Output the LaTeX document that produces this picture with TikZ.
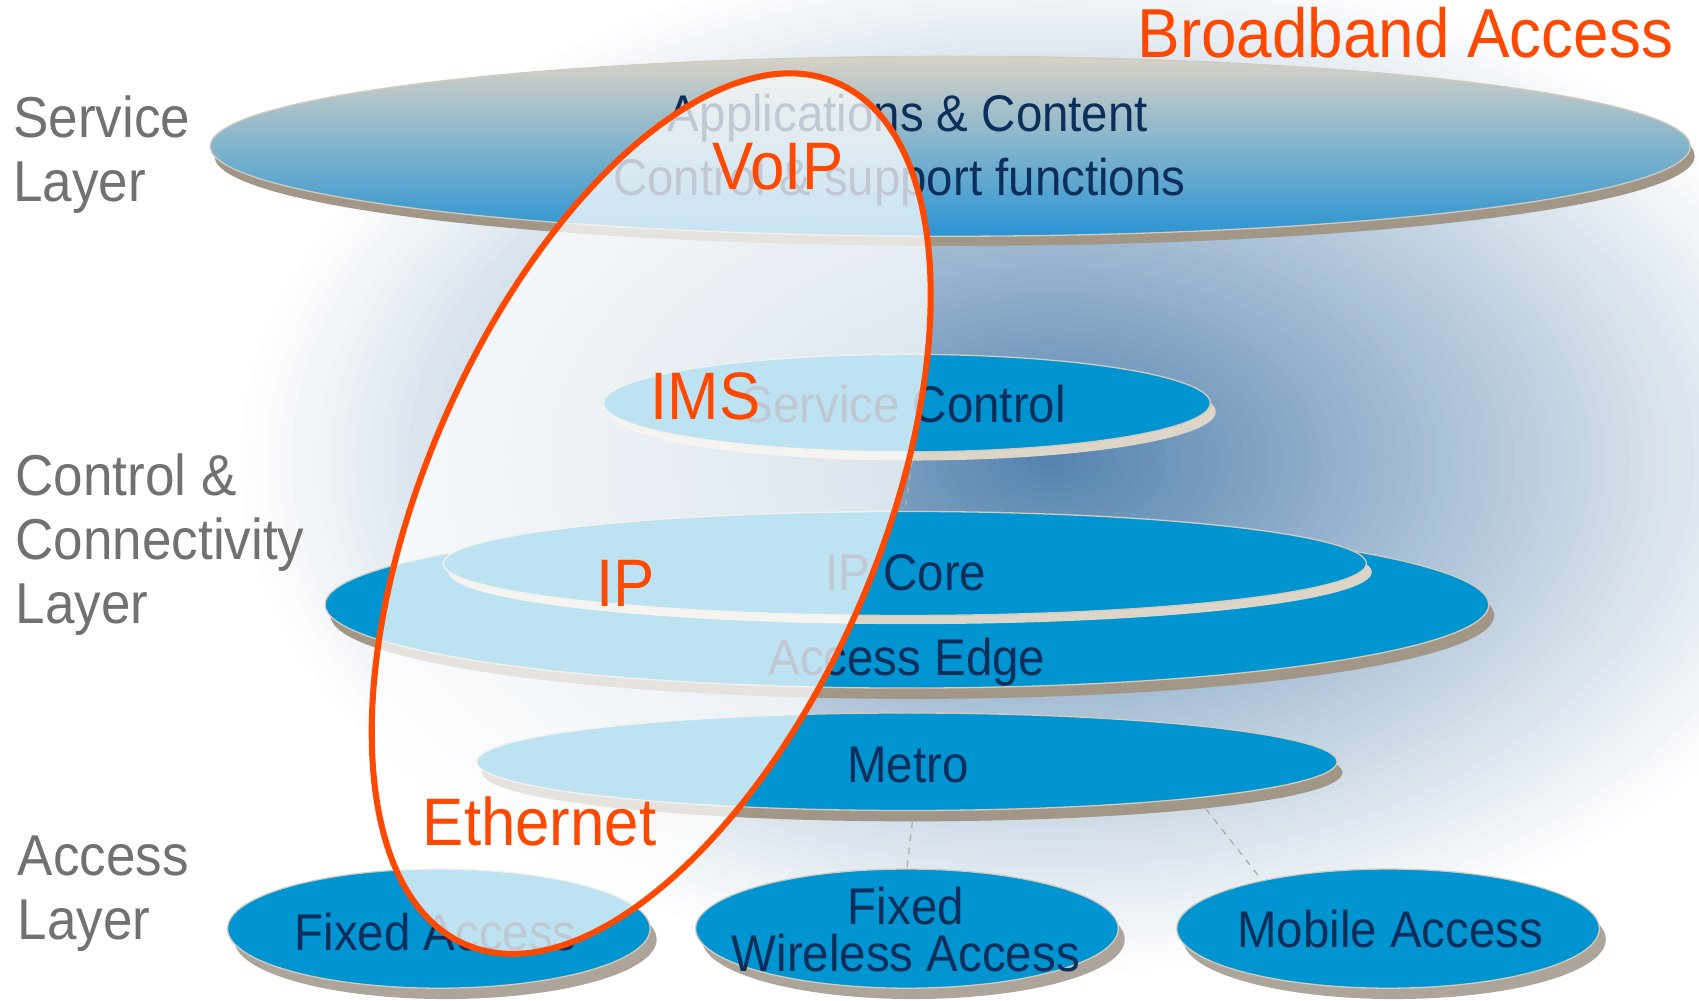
\documentclass[tikz,border=0pt]{standalone}
\usepackage{fontspec}
\setmainfont{Liberation Sans}[FakeStretch=0.92]
\usetikzlibrary{shapes.geometric}
\definecolor{discblue}{HTML}{0094D1}
\definecolor{navy}{HTML}{0C2E5A}
\definecolor{graylbl}{HTML}{717172}
\definecolor{orng}{HTML}{FF4800}
\definecolor{shadowdark}{HTML}{A29686}
\definecolor{shadowlight}{HTML}{DCD5C8}
\definecolor{shadowtex}{HTML}{ADA59A}
\definecolor{rim}{HTML}{D2CBBF}
\definecolor{svctop}{HTML}{D8D2C6}
\definecolor{svcmid}{HTML}{A3B9CE}
\definecolor{svcbot}{HTML}{2A94D3}
\definecolor{dashc}{HTML}{B5ADA2}
\definecolor{fA}{HTML}{4A7BA9}
\tikzset{
  disc/.style={ellipse, inner sep=0pt, fill=discblue, draw=rim, line width=0.6pt},
  shdark/.style={ellipse, inner sep=0pt, fill=shadowdark, draw=none},
  shlight/.style={ellipse, inner sep=0pt, fill=shadowlight, draw=none},
  shtex/.style={ellipse, inner sep=0pt, fill=shadowtex, draw=none},
  navytxt/.style={text=navy, inner sep=0pt, anchor=base, font=\fontsize{23.8}{29}\selectfont},
  lbl/.style={text=graylbl, inner sep=0pt, anchor=north west, align=left, font=\fontsize{26.6}{29.5}\selectfont},
  redtxt/.style={text=orng, inner sep=0pt, anchor=base, font=\fontsize{31}{36}\selectfont},
  dashline/.style={draw=dashc, line width=0.6pt, dash pattern=on 3pt off 3pt},
  bigd/.style={minimum width=195pt, minimum height=55pt}
}
\begin{document}
\begin{tikzpicture}[x=0.5pt,y=-0.5pt]
\useasboundingbox (0,0) rectangle (1568,923);
\fill[white] (0,0) rectangle (1568,923);
% soft funnel-shaped background glow
\foreach \k in {0,...,63}{
  \pgfmathsetmacro\rr{1-\k/64}
  \pgfmathsetmacro\pp{95*(1-\rr)^1.05}
  \fill[fA!\pp!white] (970,425) ellipse [x radius=760*\rr, y radius=480*\rr];
}

% service layer disc
\node[shdark, minimum width=683pt, minimum height=83pt] (svcS) at (881,144) {};
\node[disc, minimum width=683pt, minimum height=83pt, top color=svctop, middle color=svcmid, bottom color=svcbot] (svc) at (877,135) {};
\node[navytxt] (tApp) at (838,121) {Applications \& Content};
\node[navytxt] (tCtl) at (830,180) {Control \& support functions};

% service control
\node[shlight, minimum width=280pt, minimum height=45pt] (scS) at (842,380) {};
\node[disc, minimum width=280pt, minimum height=45pt] (sc) at (837,372) {};
\node[navytxt] (tSc) at (834,390) {Service Control};

% access edge
\node[shdark, minimum width=537pt, minimum height=77pt] (aeS) at (842,568) {};
\node[disc, minimum width=537pt, minimum height=77pt] (ae) at (837,558) {};
\node[navytxt] (tAe) at (837,623) {Access Edge};

% ip core
\node[shlight, minimum width=426pt, minimum height=48pt] (ipcS) at (840,528) {};
\node[disc, minimum width=426pt, minimum height=48pt] (ipc) at (835,520) {};
\node[navytxt] (tIpc) at (836,545) {IP Core};

% metro
\node[shdark, minimum width=397pt, minimum height=45pt] (metroS) at (842,713) {};
\node[disc, minimum width=397pt, minimum height=45pt] (metro) at (837,703) {};
\node[navytxt] (tMetro) at (838,722) {Metro};

% access discs
\node[shtex, bigd] (faS) at (411,867) {};
\node[disc, bigd] (fa) at (405,857) {};
\node[navytxt] (tFa) at (402,877) {Fixed Access};
\node[shtex, bigd] (fwaS) at (843,867) {};
\node[disc, bigd] (fwa) at (837,857) {};
\node[navytxt, align=center, font=\fontsize{23.8}{21.7}\selectfont] (tFwa) at (836,897) {Fixed\\Wireless Access};
\node[shtex, bigd] (mobS) at (1287,867) {};
\node[disc, bigd] (mob) at (1281,857) {};
\node[navytxt] (tMob) at (1283,874) {Mobile Access};

% dashed connectors
\draw[dashline] (scS.south) -- (ipc.north);
\draw[dashline] (metroS.south) -- (fwa.north);
\draw[dashline] (metroS.-7) -- (mob.159);

% layer labels
\node[lbl] (lSvc) at (12,88) {Service\\Layer};
\node[lbl] (lCtl) at (14,418) {Control \&\\Connectivity\\Layer};
\node[lbl] (lAcc) at (16,771) {Access\\Layer};

% broadband access overlay
\node[ellipse, rotate=66.7, minimum width=433pt, minimum height=210pt, inner sep=0pt, fill=white, fill opacity=0.74, draw=orng, draw opacity=1, line width=2.8pt] (grp) at (601,474) {};
\node[redtxt] (rVoip) at (718,175) {VoIP};
\node[redtxt] (rIms) at (651,387) {IMS};
\node[redtxt] (rIp) at (577,560) {IP};
\node[redtxt] (rEth) at (498,780) {Ethernet};
\node[redtxt, font=\fontsize{32}{38}\selectfont] (tBb) at (1297,53) {Broadband Access};
\end{tikzpicture}
\end{document}
